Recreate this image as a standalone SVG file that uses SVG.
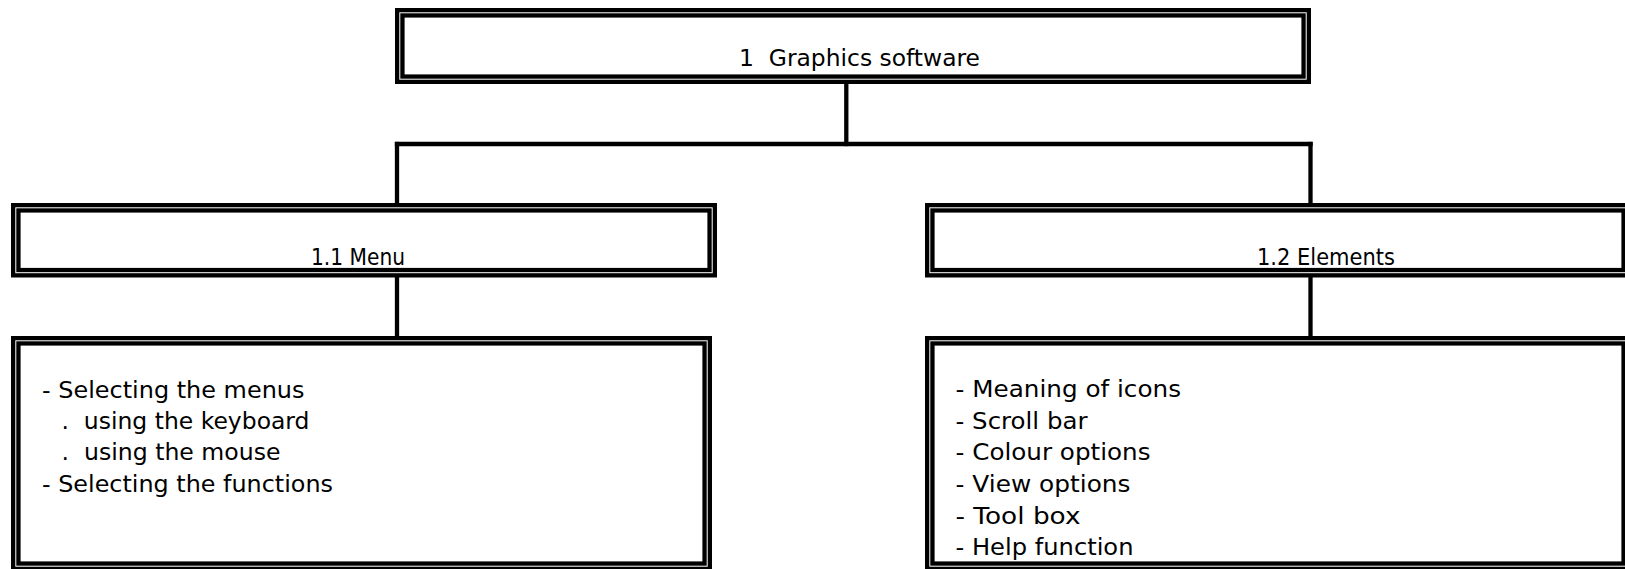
<svg xmlns="http://www.w3.org/2000/svg" width="1625" height="569" viewBox="0 0 1625 569">
<style>
.o{fill:none;stroke:#000;stroke-width:4.3}
.i{fill:none;stroke:#000;stroke-width:4.3}
.c{fill:none;stroke:#000;stroke-width:4.3;stroke-linecap:square}
text{font-family:"DejaVu Sans","Verdana",sans-serif;font-size:22.5px;fill:#000}
</style>
<rect width="1625" height="569" fill="#fff"/>
<g id="connectors">
<path class="c" d="M846.3 86 V144"/>
<path class="c" d="M397 144 H1310.5"/>
<path class="c" d="M397 144 V201"/>
<path class="c" d="M1310.5 144 V201"/>
<path class="c" d="M397 279 V334"/>
<path class="c" d="M1310.5 279 V334"/>
</g>
<g id="n1">
<rect class="o" x="397.15" y="10.15" width="911.7" height="71.7"/>
<rect class="i" x="402.45" y="15.45" width="901.1" height="61.1"/>
<text x="739" y="65.5" textLength="241" lengthAdjust="spacingAndGlyphs" xml:space="preserve">1  Graphics software</text>
</g>
<g id="n11">
<rect class="o" x="13.15" y="205.15" width="701.7" height="70.2"/>
<rect class="i" x="18.45" y="210.45" width="691.1" height="59.6"/>
<text x="311" y="264.5" textLength="94" lengthAdjust="spacingAndGlyphs">1.1 Menu</text>
</g>
<g id="n12">
<rect class="o" x="927.15" y="205.15" width="701.7" height="70.2"/>
<rect class="i" x="932.45" y="210.45" width="691.1" height="59.6"/>
<text x="1257" y="264.5" textLength="138" lengthAdjust="spacingAndGlyphs">1.2 Elements</text>
</g>
<g id="n11d">
<rect class="o" x="13.15" y="338.15" width="696.7" height="230.7"/>
<rect class="i" x="18.45" y="343.45" width="686.1" height="220.1"/>
<text x="42" y="397.5" textLength="262.5" lengthAdjust="spacingAndGlyphs">- Selecting the menus</text>
<text x="61.5" y="428.5" textLength="248" lengthAdjust="spacingAndGlyphs" xml:space="preserve">.  using the keyboard</text>
<text x="61.5" y="460" textLength="219" lengthAdjust="spacingAndGlyphs" xml:space="preserve">.  using the mouse</text>
<text x="42" y="492" textLength="291" lengthAdjust="spacingAndGlyphs">- Selecting the functions</text>
</g>
<g id="n12d">
<rect class="o" x="927.15" y="338.15" width="701.7" height="230.7"/>
<rect class="i" x="932.45" y="343.45" width="691.1" height="220.1"/>
<text x="955.5" y="397" textLength="225.5" lengthAdjust="spacingAndGlyphs">- Meaning of icons</text>
<text x="955.5" y="428.5" textLength="132" lengthAdjust="spacingAndGlyphs">- Scroll bar</text>
<text x="955.5" y="460" textLength="195" lengthAdjust="spacingAndGlyphs">- Colour options</text>
<text x="955.5" y="492" textLength="175" lengthAdjust="spacingAndGlyphs">- View options</text>
<text x="955.5" y="523.5" textLength="125" lengthAdjust="spacingAndGlyphs">- Tool box</text>
<text x="955.5" y="555" textLength="178" lengthAdjust="spacingAndGlyphs">- Help function</text>
</g>
</svg>
